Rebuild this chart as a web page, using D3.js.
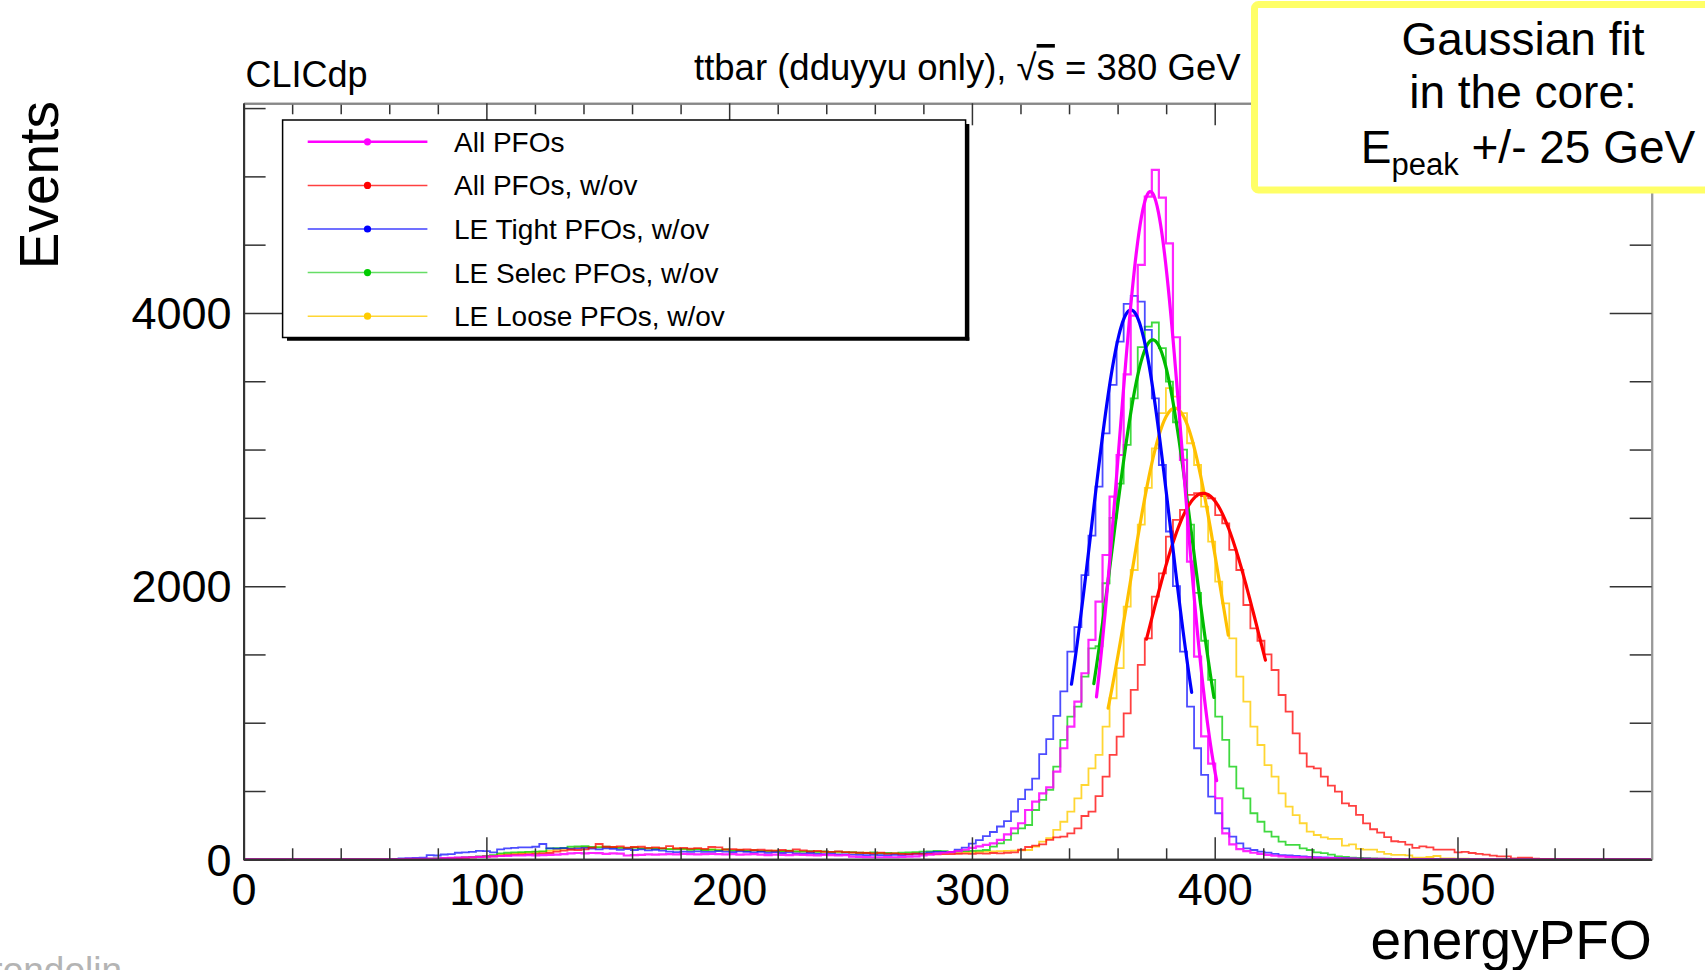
<!DOCTYPE html>
<html>
<head>
<meta charset="utf-8">
<script src="https://cdn.jsdelivr.net/npm/d3@7"></script>
<style>
  body { margin: 0; background: #ffffff; }
  text { font-family: "Liberation Sans", Arial, Helvetica, sans-serif; }
</style>
</head>
<body>
<svg id="chart" width="1705" height="970"></svg>
<script>
// 200 bins of 2.9 GeV, from 0 to 580 GeV
let bin_width = 2.9;

let all_pfos = [
  0, 0, 0, 0, 0, 0, 0, 0, 0, 0,
  0, 0, 0, 0, 0, 0, 0, 0, 0, 0,
  0, 0, 2, 3, 4, 4, 5, 6, 8, 10,
  12, 14, 15, 18, 20, 22, 24, 25, 28, 28,
  30, 28, 30, 32, 34, 38, 44, 46, 44, 46,
  45, 40, 44, 42, 28, 30, 32, 36, 34, 36,
  38, 36, 40, 38, 36, 38, 40, 38, 36, 38,
  34, 36, 38, 34, 30, 34, 32, 30, 34, 32,
  30, 28, 32, 30, 28, 30, 20, 18, 16, 15,
  15, 16, 15, 18, 20, 22, 28, 34, 42, 48,
  52, 60, 70, 84, 95, 105, 117, 142, 183, 227,
  264, 361, 422, 483, 527, 642, 813, 971, 1154, 1362,
  1606, 1886, 2228, 2655, 2960, 3550, 3980, 4352, 4852, 5048,
  4845, 4510, 3822, 2924, 2180, 1484, 900, 700, 447, 190,
  110, 75, 60, 48, 40, 32, 26, 22, 18, 16,
  14, 12, 10, 9, 8, 7, 6, 5, 4, 4,
  3, 3, 2, 2, 2, 1, 1, 1, 1, 0,
  0, 0, 0, 0, 0, 0, 0, 0, 0, 0,
  0, 0, 0, 0, 0, 0, 0, 0, 0, 0,
  0, 0, 0, 0, 0, 0, 0, 0, 0, 0
];

let all_pfos_ov = [
  0, 0, 0, 0, 0, 0, 0, 0, 0, 0,
  0, 0, 0, 0, 0, 0, 0, 0, 0, 0,
  0, 0, 0, 0, 0, 0, 0, 0, 4, 6,
  8, 10, 14, 18, 20, 22, 26, 30, 34, 36,
  38, 40, 44, 46, 56, 64, 70, 68, 72, 86,
  112, 92, 90, 94, 86, 90, 92, 84, 88, 82,
  96, 80, 84, 78, 82, 76, 90, 88, 72, 74,
  70, 72, 68, 70, 66, 64, 68, 62, 72, 66,
  58, 62, 56, 54, 58, 52, 50, 48, 46, 44,
  48, 42, 44, 40, 38, 42, 38, 40, 36, 38,
  38, 40, 42, 40, 44, 42, 46, 44, 48, 50,
  70, 90, 100, 110, 142, 160, 166, 190, 227, 317,
  349, 463, 605, 764, 898, 1069, 1240, 1423, 1618, 1923,
  2094, 2362, 2485, 2558, 2668, 2680, 2660, 2643, 2520, 2460,
  2265, 2118, 1862, 1691, 1600, 1500, 1386, 1203, 1081, 922,
  776, 678, 666, 605, 540, 495, 410, 391, 325, 263,
  220, 196, 162, 132, 127, 107, 83, 95, 88, 71,
  71, 71, 51, 54, 46, 39, 34, 27, 22, 22,
  7, 12, 12, 4, 3, 3, 2, 2, 1, 1,
  1, 0, 0, 0, 0, 0, 0, 0, 0, 0
];

let le_tight_ov = [
  0, 0, 0, 0, 0, 0, 0, 0, 0, 0,
  0, 0, 0, 0, 0, 0, 0, 0, 0, 0,
  0, 3, 6, 8, 10, 12, 30, 28, 35, 38,
  48, 50, 55, 62, 60, 50, 72, 80, 84, 88,
  88, 92, 112, 80, 78, 82, 76, 80, 84, 78,
  72, 80, 76, 70, 74, 68, 72, 66, 70, 64,
  56, 52, 56, 54, 58, 55, 55, 60, 56, 52,
  58, 54, 50, 55, 48, 52, 46, 50, 44, 42,
  46, 40, 38, 42, 36, 36, 34, 32, 30, 32,
  30, 31, 33, 31, 35, 40, 44, 50, 54, 55,
  55, 70, 85, 115, 140, 170, 200, 240, 280, 350,
  440, 510, 590, 770, 880, 1050, 1230, 1520, 1700, 2080,
  2370, 2728, 3119, 3473, 3790, 4066, 4125, 4083, 3876, 3375,
  2887, 2400, 2000, 1520, 1118, 813, 618, 459, 337, 227,
  166, 117, 80, 68, 56, 49, 39, 30, 28, 25,
  22, 18, 16, 14, 12, 10, 8, 6, 5, 4,
  3, 2, 2, 2, 1, 1, 1, 1, 0, 0,
  0, 0, 0, 0, 0, 0, 0, 0, 0, 0,
  0, 0, 0, 0, 0, 0, 0, 0, 0, 0,
  0, 0, 0, 0, 0, 0, 0, 0, 0, 0
];

let le_selec_ov = [
  0, 0, 0, 0, 0, 0, 0, 0, 0, 0,
  0, 0, 0, 0, 0, 0, 0, 0, 0, 0,
  0, 0, 0, 0, 0, 2, 4, 6, 8, 10,
  12, 15, 18, 22, 24, 30, 44, 48, 50, 52,
  54, 56, 58, 80, 82, 84, 92, 94, 96, 90,
  88, 92, 86, 84, 82, 86, 78, 80, 76, 78,
  74, 72, 76, 70, 72, 68, 70, 66, 72, 64,
  66, 62, 66, 60, 62, 58, 60, 64, 58, 56,
  60, 54, 58, 52, 56, 50, 52, 48, 46, 50,
  44, 46, 44, 48, 50, 52, 56, 58, 62, 60,
  55, 58, 60, 62, 63, 68, 93, 117, 142, 190,
  227, 251, 361, 435, 508, 679, 874, 1044, 1118, 1337,
  1545, 1560, 2021, 2500, 2750, 3034, 3375, 3750, 3900, 3930,
  3742, 3497, 3200, 3000, 2450, 1950, 1600, 1313, 1044, 874,
  679, 520, 446, 337, 275, 203, 166, 129, 105, 105,
  80, 68, 50, 45, 34, 22, 17, 12, 10, 8,
  6, 5, 4, 3, 3, 2, 2, 1, 1, 1,
  0, 0, 0, 0, 0, 0, 0, 0, 0, 0,
  0, 0, 0, 0, 0, 0, 0, 0, 0, 0,
  0, 0, 0, 0, 0, 0, 0, 0, 0, 0
];

let le_loose_ov = [
  0, 0, 0, 0, 0, 0, 0, 0, 0, 0,
  0, 0, 0, 0, 0, 0, 0, 0, 0, 0,
  0, 0, 0, 0, 0, 0, 0, 4, 6, 8,
  10, 12, 14, 18, 20, 26, 36, 40, 44, 46,
  50, 52, 56, 62, 70, 76, 78, 88, 90, 86,
  92, 88, 90, 86, 84, 88, 82, 80, 84, 78,
  76, 80, 74, 72, 76, 70, 72, 68, 70, 66,
  68, 64, 66, 62, 60, 64, 58, 60, 56, 58,
  54, 56, 52, 54, 50, 52, 48, 46, 48, 44,
  46, 42, 44, 40, 42, 44, 40, 42, 44, 46,
  45, 48, 50, 52, 55, 56, 58, 60, 62, 64,
  66, 68, 93, 129, 154, 215, 275, 349, 446, 544,
  666, 764, 971, 1179, 1400, 1850, 2118, 2450, 2720, 3009,
  3266, 3449, 3388, 3266, 3046, 2887, 2582, 2326, 2033, 1874,
  1618, 1337, 1154, 971, 837, 690, 605, 483, 386, 324,
  264, 203, 178, 160, 150, 149, 100, 110, 76, 71,
  71, 54, 39, 32, 32, 29, 12, 12, 17, 24,
  7, 6, 5, 4, 3, 3, 2, 2, 1, 1,
  1, 0, 0, 0, 0, 0, 0, 0, 0, 0,
  0, 0, 0, 0, 0, 0, 0, 0, 0, 0
];

let series_names = [
  "All PFOs",
  "All PFOs, w/ov",
  "LE Tight PFOs, w/ov",
  "LE Selec PFOs, w/ov",
  "LE Loose PFOs, w/ov",
];
let series_values = [all_pfos, all_pfos_ov, le_tight_ov, le_selec_ov, le_loose_ov];
let series_colors = ["#ff00ff", "#ff0000", "#0000ff", "#00cc00", "#ffcc00"];
let legend_colors = ["#ff00ff", "#ff4040", "#4040ff", "#66dd66", "#ffd633"];

// gaussian fits in the core, Epeak +/- 25 GeV
let fit_amp = [4889, 2680, 4022, 3803, 3303];
let fit_mean = [373.5, 395.3, 365.5, 374.5, 383.6];
let fit_sigma = [13.2, 23.2, 16.2, 16.5, 18.6];
let fit_lo = [351.3, 371.9, 341.0, 350.2, 356.1];
let fit_hi = [400.8, 421.0, 390.7, 399.7, 405.6];
let fit_colors = ["#ff00ff", "#ff0000", "#0000ff", "#00bb00", "#ffc000"];

let x_major = [0, 100, 200, 300, 400, 500];
let y_major = [0, 2000, 4000];

let svg = d3.select("#chart");
let x = d3.scaleLinear().domain([0, 580]).range([243.6, 1651.7]);
let y = d3.scaleLinear().domain([0, 5535]).range([859.3, 103.3]);

let x_minor = d3.range(20, 580, 20).filter((d) => d % 100 !== 0);
let y_minor = d3.range(500, 5535, 500).filter((d) => d % 2000 !== 0);

function style_axis(g, domain_color) {
  g.attr("font-family", null).attr("font-size", null);
  g.select(".domain").attr("stroke", domain_color).attr("stroke-width", 2);
  g.selectAll(".tick line").attr("stroke", "#333").attr("stroke-width", 1.5);
  g.selectAll(".tick text").attr("fill", "#000").style("font-size", "45px");
}

// histograms
let hist_line = d3
  .line()
  .x((d) => x(d[0]))
  .y((d) => y(d[1]))
  .curve(d3.curveStepAfter);

function hist_points(values) {
  let pts = values.map((v, i) => [i * bin_width, v]);
  pts.push([values.length * bin_width, values[values.length - 1]]);
  return pts;
}

let hist_order = [4, 3, 2, 1, 0];
let hist_opacity = [0.85, 0.75, 0.7, 0.75, 0.8];
hist_order.forEach(function (k) {
  svg
    .append("path")
    .attr("d", hist_line(hist_points(series_values[k])))
    .attr("fill", "none")
    .attr("stroke", series_colors[k])
    .attr("stroke-opacity", hist_opacity[k])
    .attr("stroke-width", k === 0 ? 2.2 : 1.8);
});

// fit curves
let fit_line = d3
  .line()
  .x((d) => x(d[0]))
  .y((d) => y(d[1]));

[4, 3, 1, 2, 0].forEach(function (k) {
  let pts = d3.range(fit_lo[k], fit_hi[k] + 0.01, 0.5).map(function (e) {
    let z = (e - fit_mean[k]) / fit_sigma[k];
    return [e, fit_amp[k] * Math.exp(-0.5 * z * z)];
  });
  svg
    .append("path")
    .attr("d", fit_line(pts))
    .attr("fill", "none")
    .attr("stroke", fit_colors[k])
    .attr("stroke-width", 3.2)
    .attr("stroke-linecap", "round");
});

// axes: bottom / left with labels, top / right mirrored
let ax_bottom = svg.append("g").attr("transform", "translate(0," + y(0) + ")");
ax_bottom.call(d3.axisBottom(x).tickValues(x_minor).tickSize(-11).tickSizeOuter(0).tickFormat(""));
ax_bottom.call(style_axis, "#333");
let ax_bottom_major = svg.append("g").attr("transform", "translate(0," + y(0) + ")");
ax_bottom_major.call(d3.axisBottom(x).tickValues(x_major).tickSize(-22).tickSizeOuter(0).tickPadding(14).tickFormat(d3.format("d")));
ax_bottom_major.call(style_axis, "#333");

let ax_left = svg.append("g").attr("transform", "translate(" + x(0) + ",0)");
ax_left.call(d3.axisLeft(y).tickValues(y_minor).tickSize(-22).tickSizeOuter(0).tickFormat(""));
ax_left.call(style_axis, "#333");
let ax_left_major = svg.append("g").attr("transform", "translate(" + x(0) + ",0)");
ax_left_major.call(d3.axisLeft(y).tickValues(y_major).tickSize(-42).tickSizeOuter(0).tickPadding(12).tickFormat(d3.format("d")));
ax_left_major.call(style_axis, "#333");
ax_left_major.selectAll(".tick text").attr("dy", "0.35em");

let ax_top = svg.append("g").attr("transform", "translate(0," + y.range()[1] + ")");
ax_top.call(d3.axisTop(x).tickValues(x_minor).tickSize(-11).tickSizeOuter(0).tickFormat(""));
ax_top.call(style_axis, "#888");
let ax_top_major = svg.append("g").attr("transform", "translate(0," + y.range()[1] + ")");
ax_top_major.call(d3.axisTop(x).tickValues(x_major).tickSize(-22).tickSizeOuter(0).tickFormat(""));
ax_top_major.call(style_axis, "#888");

let ax_right = svg.append("g").attr("transform", "translate(" + x.range()[1] + ",0)");
ax_right.call(d3.axisRight(y).tickValues(y_minor).tickSize(-22).tickSizeOuter(0).tickFormat(""));
let ax_right_major = svg.append("g").attr("transform", "translate(" + x.range()[1] + ",0)");
ax_right_major.call(d3.axisRight(y).tickValues(y_major).tickSize(-42).tickSizeOuter(0).tickFormat(""));
ax_right.call(style_axis, "#999");
ax_right_major.call(style_axis, "#999");

// axis titles
svg
  .append("text")
  .attr("x", x.range()[1])
  .attr("y", 959)
  .attr("text-anchor", "end")
  .style("font-size", "55px")
  .text("energyPFO");

svg
  .append("text")
  .attr("transform", "translate(58,101) rotate(-90)")
  .attr("text-anchor", "end")
  .style("font-size", "55px")
  .text("Events");

svg
  .append("text")
  .attr("x", 245.5)
  .attr("y", 87)
  .style("font-size", "36px")
  .text("CLICdp");

let title = svg
  .append("text")
  .attr("x", 694)
  .attr("y", 80)
  .style("font-size", "36.5px");
title.append("tspan").text("ttbar (dduyyu only), \u221A");
title.append("tspan").style("text-decoration", "overline").text("s");
title.append("tspan").text(" = 380 GeV");

// legend
let leg = svg.append("g");
leg
  .append("rect")
  .attr("x", 282.6)
  .attr("y", 120)
  .attr("width", 683)
  .attr("height", 217.5)
  .attr("fill", "#fff")
  .attr("stroke", "#000")
  .attr("stroke-width", 1.5);
leg.append("line").attr("x1", 967.6).attr("x2", 967.6).attr("y1", 124).attr("y2", 340.5)
  .attr("stroke", "#000").attr("stroke-width", 3.5);
leg.append("line").attr("x1", 287).attr("x2", 969.3).attr("y1", 339).attr("y2", 339)
  .attr("stroke", "#000").attr("stroke-width", 3.5);

let leg_rows = leg
  .selectAll(".row")
  .data(series_names)
  .enter()
  .append("g")
  .attr("class", "row")
  .attr("transform", function (d, i) {
    return "translate(0," + (141.8 + i * 43.6) + ")";
  });

leg_rows
  .append("line")
  .attr("x1", 307.7)
  .attr("x2", 427.4)
  .attr("stroke", (d, i) => legend_colors[i])
  .attr("stroke-width", (d, i) => (i === 0 ? 2.4 : 1.5));

leg_rows
  .append("circle")
  .attr("cx", 367.5)
  .attr("r", 3.6)
  .attr("fill", (d, i) => series_colors[i]);

leg_rows
  .append("text")
  .attr("x", 454)
  .attr("y", 10)
  .style("font-size", "28px")
  .text((d) => d);

// author tag, cut off at the bottom edge
svg
  .append("text")
  .attr("x", 122)
  .attr("y", 983)
  .attr("text-anchor", "end")
  .attr("fill", "#b4b4b4")
  .style("font-size", "37px")
  .text("E. Brondolin");

// yellow note box
svg
  .append("rect")
  .attr("x", 1254.5)
  .attr("y", 4.5)
  .attr("width", 480)
  .attr("height", 185.5)
  .attr("rx", 4)
  .attr("fill", "#fff")
  .attr("stroke", "#ffff66")
  .attr("stroke-width", 7);

let note = svg.append("g").style("font-size", "46px").attr("text-anchor", "middle");
note.append("text").attr("x", 1523).attr("y", 55).text("Gaussian fit");
note.append("text").attr("x", 1523).attr("y", 108).text("in the core:");
let note3 = note.append("text").attr("x", 1528).attr("y", 163);
note3.append("tspan").text("E");
note3.append("tspan").attr("dy", 12).style("font-size", "31px").text("peak");
note3.append("tspan").attr("dy", -12).text(" +/- 25 GeV");
</script>
</body>
</html>
